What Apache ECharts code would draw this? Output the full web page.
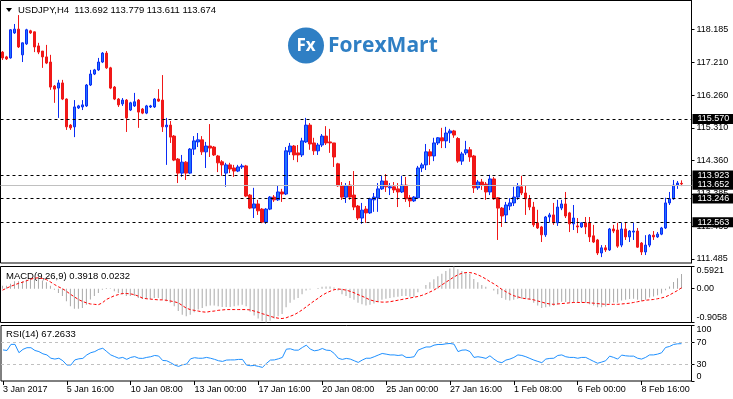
<!DOCTYPE html>
<html>
<head>
<meta charset="utf-8">
<script src="https://cdn.jsdelivr.net/npm/echarts@6/dist/echarts.min.js"></script>
<style>
  html, body { margin: 0; padding: 0; background: #fff; }
  #chart { width: 733px; height: 399px; }
</style>
</head>
<body>
<div id="chart"></div>
<script>
// USDJPY H4 bars, [open, close, low, high]
const ohlc = [
  [117.52,117.35,117.29,117.55],[117.38,117.32,117.29,117.41],[117.35,118.17,117.33,118.19],[118.08,118.19,118.05,118.34],
  [118.19,117.67,117.64,118.60],[117.44,117.79,117.23,117.80],[117.76,118.17,117.73,118.20],[118.14,118.08,118.05,118.17],
  [118.11,117.67,117.52,118.12],[117.70,117.52,117.46,117.79],[117.55,117.38,117.06,117.55],[117.38,117.20,117.17,117.73],
  [117.23,116.50,116.42,117.44],[116.53,116.44,116.04,116.56],[116.47,116.62,115.60,116.71],[116.62,116.15,116.12,116.71],
  [116.15,115.34,115.25,116.17],[115.39,115.31,115.25,115.42],[115.34,115.92,115.04,116.12],[115.89,115.95,115.86,115.98],
  [115.92,115.98,115.83,116.12],[115.95,116.56,115.92,116.59],[116.56,116.88,116.53,117.00],[116.88,117.00,116.85,117.03],
  [117.00,117.23,116.97,117.35],[117.23,117.49,117.20,117.52],[117.49,117.06,117.03,117.55],[117.06,116.47,116.44,117.09],
  [116.50,116.15,116.12,116.53],[116.15,115.98,115.92,116.18],[116.01,116.12,115.95,116.18],[116.12,115.60,115.19,116.15],
  [115.83,116.04,115.80,116.07],[115.95,116.07,115.92,116.33],[116.12,115.77,115.31,116.15],[115.86,115.74,115.71,115.89],
  [115.74,115.95,115.71,115.98],[115.92,115.95,115.89,115.98],[115.92,116.15,115.89,116.18],[116.15,116.09,116.07,116.44],
  [116.12,115.34,115.19,116.85],[115.34,115.39,114.23,115.60],[115.39,115.04,114.87,115.51],[115.07,114.37,114.34,115.10],
  [114.40,113.99,113.70,114.43],[113.99,114.31,113.88,114.52],[114.31,113.99,113.79,114.34],[113.99,114.69,113.96,114.72],
  [114.69,114.93,114.52,115.07],[114.90,114.96,114.75,115.16],[114.96,114.61,114.52,115.07],[114.61,114.78,114.14,114.90],
  [114.78,114.72,114.46,115.42],[114.75,114.52,114.49,114.78],[114.49,114.29,114.02,114.52],[114.32,114.23,113.91,114.37],
  [113.99,114.23,113.59,114.29],[114.23,114.11,113.99,114.29],[114.14,114.05,113.88,114.23],[114.05,114.17,114.02,114.23],
  [114.17,114.20,114.11,114.26],[114.20,113.32,113.29,114.23],[113.35,112.97,112.94,113.38],[112.97,113.09,112.68,113.56],
  [113.09,112.89,112.77,113.21],[112.94,112.56,112.53,112.97],[112.56,112.94,112.51,112.97],[112.94,113.29,112.91,113.32],
  [113.29,113.21,113.15,113.35],[113.21,113.44,113.18,113.64],[113.44,113.38,113.15,113.53],[113.38,114.64,113.35,114.75],
  [114.61,114.78,114.52,114.87],[114.78,114.52,114.37,114.81],[114.58,114.52,114.31,114.81],[114.52,114.93,114.46,115.02],
  [114.90,115.39,114.87,115.60],[115.39,114.84,114.67,115.45],[114.87,114.64,114.52,115.02],[114.64,114.81,114.52,114.87],
  [114.81,115.07,114.75,115.13],[115.07,114.87,114.81,115.36],[114.90,114.87,114.58,115.28],[114.87,114.46,114.17,114.87],
  [114.26,113.62,113.59,114.29],[113.62,113.29,113.21,113.73],[113.29,113.62,113.12,113.70],[113.64,113.29,113.21,113.76],
  [113.35,113.00,112.91,114.05],[113.03,112.68,112.62,113.06],[112.68,112.91,112.51,113.12],[112.94,112.83,112.54,113.03],
  [112.83,113.24,112.80,113.27],[113.21,113.29,112.86,113.41],[113.27,113.53,112.86,113.70],[113.53,113.76,113.50,113.91],
  [113.76,113.59,113.44,113.96],[113.56,113.59,113.35,113.70],[113.59,113.50,113.41,113.73],[113.53,113.44,113.00,113.70],
  [113.44,113.64,113.41,113.91],[113.64,113.24,113.15,113.88],[113.27,113.18,113.00,113.35],[113.18,113.29,113.15,113.32],
  [113.27,114.14,113.24,114.20],[114.14,114.23,114.02,114.29],[114.23,114.61,114.08,114.84],[114.61,114.49,114.23,114.69],
  [114.49,114.87,114.34,115.02],[114.87,115.02,114.81,115.04],[115.02,114.93,114.72,115.31],[114.93,115.16,114.72,115.34],
  [115.16,115.22,114.87,115.28],[115.22,115.10,115.02,115.25],[115.00,114.34,114.29,115.04],[114.34,114.55,114.23,114.61],
  [114.58,114.67,114.52,114.93],[114.67,114.46,114.32,114.75],[114.49,113.56,113.41,114.52],[113.56,113.73,113.50,113.79],
  [113.73,113.64,113.50,113.82],[113.67,113.44,113.21,113.73],[113.44,113.82,113.35,113.94],[113.82,113.24,113.21,113.88],
  [113.27,112.97,112.04,113.29],[112.97,112.74,112.42,113.00],[112.77,113.06,112.56,113.15],[113.03,113.12,112.91,113.26],
  [113.12,113.29,113.03,113.59],[113.29,113.59,113.21,113.70],[113.59,113.41,113.35,113.91],[113.41,113.24,112.77,113.64],
  [113.24,113.00,112.91,113.35],[113.00,112.48,112.42,113.15],[112.54,112.39,112.36,112.92],[112.42,112.19,111.98,112.45],
  [112.19,112.71,112.13,112.74],[112.71,112.77,112.56,112.83],[112.77,112.54,112.48,113.12],[112.54,113.00,112.45,113.21],
  [112.97,113.09,112.91,113.21],[113.09,112.74,112.68,113.44],[112.83,112.51,112.27,112.86],[112.51,112.68,112.33,113.06],
  [112.45,112.42,112.24,112.68],[112.42,112.54,112.39,112.56],[112.54,112.42,112.21,112.71],[112.54,112.13,111.98,112.71],
  [112.16,111.98,111.95,112.48],[112.04,111.66,111.60,112.07],[111.66,111.81,111.54,111.89],[111.81,111.75,111.69,111.89],
  [111.75,112.36,111.72,112.39],[112.36,112.30,112.24,112.48],[112.33,111.86,111.81,112.54],[111.89,112.36,111.83,112.54],
  [112.36,112.13,112.04,112.54],[112.13,112.30,111.98,112.33],[112.27,112.30,112.04,112.54],[112.30,111.83,111.81,112.39],
  [111.95,111.69,111.60,111.98],[111.69,111.89,111.60,112.18],[111.89,112.18,111.83,112.21],[112.18,112.13,112.04,112.30],
  [112.13,112.21,112.10,112.27],[112.21,112.39,112.18,112.42],[112.39,113.12,112.36,113.27],[113.12,113.24,113.06,113.44],
  [113.24,113.64,113.21,113.79],[113.64,113.70,113.53,113.76],[113.692,113.674,113.611,113.779]
];

const macdMain = [
  0.08,0.08,0.13,0.2,0.2,0.2,0.24,0.26,0.27,0.26,0.22,0.17,0.08,-0.03,-0.12,-0.2,-0.34,-0.47,-0.54,-0.54,
  -0.52,-0.43,-0.29,-0.2,-0.12,-0.03,0.02,0.01,-0.07,-0.12,-0.16,-0.2,-0.2,-0.2,-0.25,-0.28,-0.28,-0.28,-0.25,-0.25,
  -0.29,-0.34,-0.38,-0.47,-0.6,-0.7,-0.74,-0.7,-0.63,-0.56,-0.52,-0.47,-0.45,-0.45,-0.47,-0.49,-0.49,-0.49,-0.47,-0.45,
  -0.43,-0.47,-0.62,-0.72,-0.8,-0.87,-0.9058,-0.86,-0.8,-0.74,-0.68,-0.5,-0.38,-0.3,-0.25,-0.15,-0.05,-0.02,0,0.02,
  0.05,0.06,0.06,0.03,-0.05,-0.15,-0.2,-0.25,-0.3,-0.38,-0.42,-0.45,-0.43,-0.4,-0.35,-0.3,-0.27,-0.25,-0.23,-0.22,
  -0.2,-0.2,-0.22,-0.22,-0.1,0,0.1,0.17,0.25,0.33,0.4,0.47,0.54,0.5921,0.52,0.47,0.44,0.4,0.26,0.17,
  0.1,0.05,0,-0.05,-0.15,-0.25,-0.3,-0.32,-0.3,-0.27,-0.27,-0.28,-0.3,-0.38,-0.45,-0.52,-0.5,-0.48,-0.46,-0.42,
  -0.35,-0.36,-0.38,-0.37,-0.38,-0.37,-0.38,-0.42,-0.45,-0.5,-0.5,-0.48,-0.4,-0.37,-0.38,-0.32,-0.3,-0.28,-0.27,-0.3,
  -0.33,-0.3,-0.24,-0.21,-0.18,-0.13,-0.04,0.06,0.18,0.28,0.3918
];

const macdSignal = [
  -0.04,0.01,0.06,0.1,0.14,0.17,0.21,0.25,0.28,0.29,0.27,0.24,0.18,0.11,0.05,0,-0.07,-0.15,-0.22,-0.29,
  -0.34,-0.38,-0.41,-0.42,-0.43,-0.38,-0.29,-0.24,-0.19,-0.16,-0.13,-0.13,-0.14,-0.16,-0.2,-0.25,-0.27,-0.28,-0.29,-0.3,
  -0.3,-0.31,-0.33,-0.35,-0.38,-0.45,-0.52,-0.56,-0.58,-0.6,-0.62,-0.63,-0.61,-0.6,-0.58,-0.57,-0.56,-0.56,-0.56,-0.56,
  -0.56,-0.56,-0.57,-0.6,-0.63,-0.67,-0.7,-0.74,-0.77,-0.79,-0.8,-0.78,-0.74,-0.7,-0.64,-0.57,-0.49,-0.41,-0.33,-0.26,
  -0.18,-0.12,-0.07,-0.03,-0.01,-0.02,-0.04,-0.07,-0.11,-0.16,-0.2,-0.25,-0.3,-0.33,-0.35,-0.36,-0.36,-0.35,-0.33,-0.31,
  -0.29,-0.27,-0.25,-0.23,-0.21,-0.18,-0.14,-0.09,-0.04,0.03,0.1,0.17,0.24,0.31,0.37,0.41,0.43,0.43,0.41,0.37,
  0.32,0.26,0.19,0.13,0.06,-0.02,-0.08,-0.14,-0.19,-0.22,-0.25,-0.27,-0.28,-0.3,-0.33,-0.36,-0.39,-0.41,-0.42,-0.41,
  -0.4,-0.39,-0.38,-0.37,-0.37,-0.37,-0.37,-0.38,-0.39,-0.4,-0.41,-0.42,-0.42,-0.42,-0.42,-0.41,-0.4,-0.39,-0.37,-0.35,
  -0.33,-0.31,-0.3,-0.29,-0.27,-0.25,-0.22,-0.17,-0.11,-0.05,0.0232
];

const rsi = [
  56,55,66,66,51,57,60,60,55,53,49,47,41,39.5,41,36.5,28.7,28.7,38,40,
  40.7,47,51,53,57,59,53,47,44,41,42.5,39,42.5,44,41,40.7,42.5,43.7,46,45,
  37,36.5,33,28.7,26.3,29.3,30.5,40,42,41,41,42.5,41,39,36.5,35.3,37.7,38,38,38.9,
  38.9,28.7,27.5,28,26.3,24.5,31.7,37.7,38,40,42.5,57.4,58,55.6,55.6,60.4,64.6,57.4,54.4,55.6,
  58.6,55.6,55,49.6,41,38.9,40.7,39.5,36.5,33.5,37.7,41,41,43.7,46.7,49.6,48.4,47,47,46,
  47,42.5,42.5,43.7,55.6,58.6,61.3,61.3,64.6,65.8,65.8,67,67.6,66.4,53,55.6,56,53,42.5,43.7,
  42.5,40.7,45.4,39.5,34.7,33,37.7,39.5,42.5,47,46,43.7,40.7,37.7,35.3,33,39.5,40.7,41,46,
  47,43.7,42.5,42.5,41,42.5,42.5,38.9,35.3,32,34.1,36.5,44.8,42.5,39.5,46.7,45.4,44.8,44.8,41,
  39.5,42.5,47,47,48.4,50.8,60.4,62.2,65.8,67,67.2633
];

const priceTicks = [111.485, 112.435, 113.385, 114.360, 115.310, 116.260, 117.210, 118.185];
const levels = [115.570, 113.923, 113.246, 112.563];
const bidLevel = 113.652;
const macdTicks = [-0.9058, 0, 0.5921];
const rsiTicks = [0, 30, 70, 100];
const timeTicks = ['3 Jan 2017', '5 Jan 16:00', '10 Jan 08:00', '13 Jan 00:00', '17 Jan 16:00', '20 Jan 08:00',
  '25 Jan 00:00', '27 Jan 16:00', '1 Feb 08:00', '6 Feb 00:00', '8 Feb 16:00'];

const FONT = 'Liberation Sans, DejaVu Sans, sans-serif';
const SLOTS = 173; // two empty bars of chart shift on the right
const cats = Array.from({ length: SLOTS }, (_, i) => String(i));
const last = ohlc[ohlc.length - 1];
const lastOHLC = [last[0], last[3], last[2], last[1]];

const chart = echarts.init(document.getElementById('chart'), null, { renderer: 'canvas' });

const gridBase = { left: 0.5, width: 691, show: true, borderColor: '#000', borderWidth: 1, backgroundColor: '#fff' };

function xAx(gridIndex, showLabels) {
  return {
    type: 'category', gridIndex, data: cats, boundaryGap: true,
    axisLine: { show: false },
    axisTick: showLabels ? { show: true, interval: 15, alignWithLabel: true, length: 4, lineStyle: { color: '#000' } } : { show: false },
    axisLabel: showLabels ? {
      show: true, interval: 15, align: 'left', margin: 4, color: '#000', fontFamily: FONT, fontSize: 9,
      formatter: v => timeTicks[Number(v) / 16] || ''
    } : { show: false },
    splitLine: { show: false }
  };
}

function yAx(gridIndex, min, max, ticks, fmt, edgeAlign) {
  const label = {
    customValues: ticks, margin: 5, color: '#000', fontFamily: FONT, fontSize: 9, formatter: fmt
  };
  if (edgeAlign) {
    label.verticalAlignMinLabel = 'bottom';
    label.verticalAlignMaxLabel = 'top';
  }
  return {
    type: 'value', gridIndex, position: 'right', min, max, scale: true,
    axisLine: { show: true, lineStyle: { color: '#000' } },
    axisTick: { show: true, customValues: ticks, length: 3, lineStyle: { color: '#000' } },
    axisLabel: label,
    splitLine: { show: false }
  };
}

const levelLabel = {
  show: true, position: 'end', distance: 1, color: '#fff', backgroundColor: '#000',
  fontFamily: FONT, fontSize: 9, lineHeight: 9, padding: [1, 4, 0, 5],
  formatter: p => p.name
};

chart.setOption({
  animation: false,
  backgroundColor: '#fff',
  grid: [
    Object.assign({ top: 0.5, height: 262.5 }, gridBase),
    Object.assign({ top: 266.5, height: 56 }, gridBase),
    Object.assign({ top: 325.5, height: 55.5 }, gridBase)
  ],
  xAxis: [xAx(0, false), xAx(1, false), xAx(2, true)],
  yAxis: [
    yAx(0, 111.368, 119.025, priceTicks, v => v.toFixed(3), false),
    yAx(1, -0.9058, 0.5921, macdTicks, v => (v === 0 ? '0.00' : v.toFixed(4)), true),
    yAx(2, 0, 100, rsiTicks, v => String(v), true)
  ],
  series: [
    {
      type: 'candlestick', xAxisIndex: 0, yAxisIndex: 0, data: ohlc, barWidth: 3,
      itemStyle: { color: '#1f72ff', color0: '#f01818', borderColor: '#0a2cf5', borderColor0: '#f01818', borderWidth: 1 },
      markLine: {
        silent: true, symbol: 'none', animation: false,
        lineStyle: { color: '#000', type: [3, 3], width: 1 },
        label: levelLabel,
        data: [
          { yAxis: bidLevel, name: bidLevel.toFixed(3), lineStyle: { color: '#c0c0c0', type: 'solid', width: 1 } }
        ].concat(levels.map(v => ({ yAxis: v, name: v.toFixed(3) })))
      }
    },
    {
      type: 'bar', xAxisIndex: 1, yAxisIndex: 1, data: macdMain, barWidth: 1,
      itemStyle: { color: '#a9a9a9' }
    },
    {
      type: 'line', xAxisIndex: 1, yAxisIndex: 1, data: macdSignal, showSymbol: false,
      lineStyle: { color: '#ff0000', width: 1, type: [3, 2] }
    },
    {
      type: 'line', xAxisIndex: 2, yAxisIndex: 2, data: rsi, showSymbol: false,
      lineStyle: { color: '#1e90ff', width: 1 },
      markLine: {
        silent: true, symbol: 'none', animation: false, label: { show: false },
        lineStyle: { color: '#c0c0c0', type: [3, 3], width: 1 },
        data: [{ yAxis: 70 }, { yAxis: 30 }]
      }
    }
  ],
  graphic: [
    { type: 'polygon', shape: { points: [[6, 8], [12, 8], [9, 12]] }, style: { fill: '#000' } },
    {
      type: 'text', x: 18, y: 5,
      style: { text: 'USDJPY,H4  ' + lastOHLC.map(v => v.toFixed(3)).join(' '), font: '9.5px ' + FONT, fill: '#000' }
    },
    {
      type: 'text', x: 6, y: 271,
      style: { text: 'MACD(9,26,9) ' + macdMain[macdMain.length - 1].toFixed(4) + ' ' + macdSignal[macdSignal.length - 1].toFixed(4), font: '9.5px ' + FONT, fill: '#000' }
    },
    {
      type: 'text', x: 6, y: 329,
      style: { text: 'RSI(14) ' + rsi[rsi.length - 1].toFixed(4), font: '9.5px ' + FONT, fill: '#000' }
    },
    { type: 'circle', shape: { cx: 306, cy: 45.5, r: 18 }, style: { fill: '#2f7fc4' } },
    {
      type: 'text', x: 306, y: 46,
      style: { text: 'Fx', font: 'bold 17px Open Sans', fill: '#fff', align: 'center', verticalAlign: 'middle' }
    },
    {
      type: 'text', x: 328, y: 46,
      style: { text: 'ForexMart', font: 'bold 21px Open Sans', fill: '#2f7fc4', verticalAlign: 'middle' }
    }
  ]
});
</script>
</body>
</html>
